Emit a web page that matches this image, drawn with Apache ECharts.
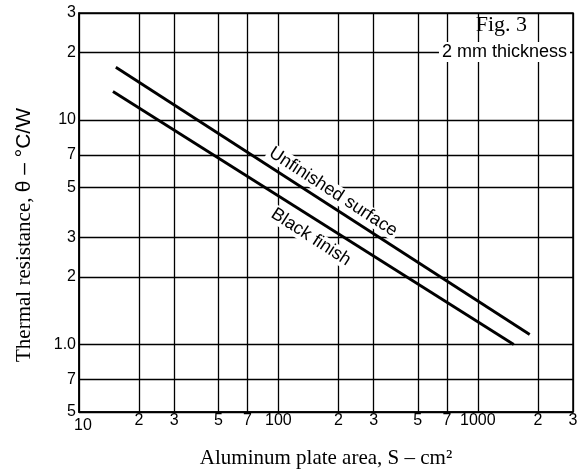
<!DOCTYPE html>
<html>
<head>
<meta charset="utf-8">
<script src="https://cdn.jsdelivr.net/npm/echarts@6/dist/echarts.min.js"></script>
<style>html,body{margin:0;padding:0;background:#fff;}#c{width:582px;height:476px;}</style>
</head>
<body>
<div id="c"></div>
<script>
// Data
const unfinishedArea = [15.3, 1820];
const unfinishedTheta = [17.2, 1.107];
const blackArea = [14.8, 1514];
const blackTheta = [13.4, 1.0];

const xTickValues = [10, 20, 30, 50, 70, 100, 200, 300, 500, 700, 1000, 2000, 3000];
const xTickLabels = ['10', '2', '3', '5', '7', '100', '2', '3', '5', '7', '1000', '2', '3'];
const yTickValues = [0.5, 0.7, 1, 2, 3, 5, 7, 10, 20, 30];
const yTickLabels = ['5', '7', '1.0', '2', '3', '5', '7', '10', '2', '3'];

const unfinishedLabelAt = [188, 4.78];
const blackLabelAt = [145.5, 3.01];

const sans = '"Liberation Sans", Arial, sans-serif';
const serif = '"Liberation Serif", "Times New Roman", serif';

function pair(xs, ys) { return xs.map((x, i) => [x, ys[i]]); }
function xLabel(v) {
  const i = xTickValues.findIndex(t => Math.abs(t - v) / t < 1e-6);
  const s = i >= 0 ? xTickLabels[i] : '';
  return i === 0 ? '{first|' + s + '}' : s;
}
function yLabel(v) {
  const i = yTickValues.findIndex(t => Math.abs(t - v) / t < 1e-6);
  return i >= 0 ? yTickLabels[i] : '';
}

const chart = echarts.init(document.getElementById('c'));
chart.setOption({
  animation: false,
  backgroundColor: '#fff',
  title: [
    { text: 'Fig. 3', right: 55, top: 14, padding: 0,
      textStyle: { fontFamily: serif, fontSize: 22, fontWeight: 'normal', color: '#000' } },
    { text: '2 mm thickness', right: 12, top: 42, padding: [1, 3], backgroundColor: '#fff',
      textStyle: { fontFamily: sans, fontSize: 18, fontWeight: 'normal', color: '#000' } }
  ],
  grid: { left: 79, right: 9, top: 13, bottom: 64, show: true, borderColor: '#000', borderWidth: 1.5 },
  xAxis: {
    type: 'log', logBase: 10, min: 10, max: 3000,
    name: 'Aluminum plate area, S – cm²', nameLocation: 'middle', nameGap: 36,
    nameTextStyle: { fontFamily: serif, fontSize: 21, color: '#000' },
    axisLine: { show: true, lineStyle: { color: '#000', width: 1.5 } },
    axisTick: { show: false, customValues: xTickValues },
    splitLine: { show: true, lineStyle: { color: '#000', width: 1.3 } },
    axisLabel: {
      customValues: xTickValues, formatter: xLabel, margin: 1,
      fontFamily: sans, fontSize: 16, color: '#000',
      rich: { first: { fontFamily: sans, fontSize: 16, color: '#000', padding: [5, 0, 0, 8] } }
    }
  },
  yAxis: {
    type: 'log', logBase: 10, min: 0.5, max: 30,
    name: 'Thermal resistance, {s|θ – °C/W}', nameLocation: 'middle', nameGap: 44,
    nameTextStyle: { fontFamily: serif, fontSize: 21, color: '#000', padding: [0, 45, 0, 0],
      rich: { s: { fontFamily: sans, fontSize: 21, color: '#000' } } },
    axisLine: { show: true, lineStyle: { color: '#000', width: 1.5 } },
    axisTick: { show: false, customValues: yTickValues },
    splitLine: { show: true, lineStyle: { color: '#000', width: 1.3 } },
    axisLabel: { customValues: yTickValues, formatter: yLabel, margin: 3,
      fontFamily: sans, fontSize: 16, color: '#000' }
  },
  series: [
    {
      name: 'Unfinished surface', type: 'line', data: pair(unfinishedArea, unfinishedTheta),
      symbol: 'none', lineStyle: { color: '#000', width: 2.8 }, z: 5,
      markPoint: {
        symbol: 'circle', symbolSize: 0, silent: true,
        data: [{ coord: unfinishedLabelAt }],
        label: { show: true, formatter: 'Unfinished surface', rotate: -33, position: 'inside',
          fontFamily: sans, fontSize: 18, color: '#000', backgroundColor: '#fff', padding: [0, 2] }
      }
    },
    {
      name: 'Black finish', type: 'line', data: pair(blackArea, blackTheta),
      symbol: 'none', lineStyle: { color: '#000', width: 2.8 }, z: 5,
      markPoint: {
        symbol: 'circle', symbolSize: 0, silent: true,
        data: [{ coord: blackLabelAt }],
        label: { show: true, formatter: 'Black finish', rotate: -33, position: 'inside',
          fontFamily: sans, fontSize: 18, color: '#000', backgroundColor: '#fff', padding: [0, 2] }
      }
    }
  ]
});
</script>
</body>
</html>
